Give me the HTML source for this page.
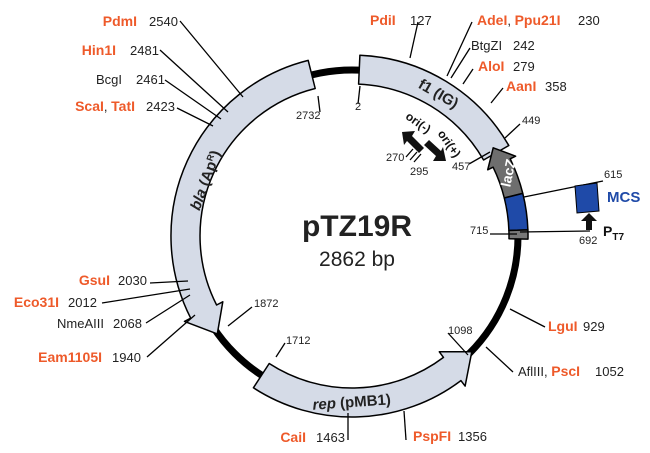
<!DOCTYPE html>
<html><head><meta charset="utf-8"><style>
html,body{margin:0;padding:0;background:#fff;width:650px;height:453px;overflow:hidden}
svg{display:block}
text{font-family:"Liberation Sans Narrow","Liberation Sans",sans-serif;font-size:13px;fill:#222}
.r{fill:#ee5a2a;font-weight:bold;font-size:14px}
.s{font-size:11px}
</style></head><body>
<svg id="s" width="650" height="453" viewBox="0 0 650 453">
<g id="shapes"></g>
<g stroke="#000" stroke-width="1.3" fill="none">
<polyline points="180,21 243,97"/>
<polyline points="160,50 228,112"/>
<polyline points="165,80 221,119"/>
<polyline points="177,108 213,126"/>
<polyline points="418,22 410,58"/>
<polyline points="472,22 447,76"/>
<polyline points="470,48 451,78"/>
<polyline points="473,69 463,84"/>
<polyline points="503,88 491,103"/>
<polyline points="520,124 505,138"/>
<polyline points="469,164 490,152"/>
<polyline points="406,157 413,149"/>
<polyline points="414,162 421,154"/>
<polyline points="410,160 417,152"/>
<polyline points="490,234 517,234"/>
<polyline points="520,232 590,231"/>
<polyline points="524,197 603,181"/>
<polyline points="150,283 188,281"/>
<polyline points="102,303 190,289"/>
<polyline points="146,323 190,295"/>
<polyline points="147,357 195,315"/>
<polyline points="228,326 252,307"/>
<polyline points="276,357 285,343"/>
<polyline points="448,333 468,355"/>
<polyline points="510,309 545,327"/>
<polyline points="486,347 513,372"/>
<polyline points="348,440 348,413"/>
<polyline points="406,440 404,411"/>
<polyline points="318,96 320,112"/>
<polyline points="360,86 358,104"/>
</g>
<g fill="#111">
<polygon points="402,132 415,131 412,136 424,148 419,153 407,141 404,145"/>
<polygon points="446,161 433,161 436,156 424,145 429,140 441,151 443,147"/>
</g>
<polygon points="575,186 597,183 599,211 577,213" fill="#1f4aa8" stroke="#000" stroke-width="1"/>
<polygon points="589,213 597,221 592,221 592,230 586,230 586,221 581,221" fill="#111"/>

<text x="137" y="26" class="r" text-anchor="end">PdmI</text><text x="149" y="26">2540</text>
<text x="116" y="55" class="r" text-anchor="end">Hin1I</text><text x="130" y="55">2481</text>
<text x="122" y="84" text-anchor="end">BcgI</text><text x="136" y="84">2461</text>
<text x="135" y="111" text-anchor="end"><tspan class="r">ScaI</tspan>, <tspan class="r">TatI</tspan></text><text x="146" y="111">2423</text>
<text x="370" y="25" class="r">PdiI</text><text x="410" y="25">127</text>
<text x="477" y="25"><tspan class="r">AdeI</tspan>, <tspan class="r">Ppu21I</tspan></text><text x="578" y="25">230</text>
<text x="471" y="50">BtgZI</text><text x="513" y="50">242</text>
<text x="478" y="71" class="r">AloI</text><text x="513" y="71">279</text>
<text x="506" y="91" class="r">AanI</text><text x="545" y="91">358</text>
<text x="522" y="124" class="s">449</text>
<text x="452" y="170" class="s">457</text>
<text x="386" y="161" class="s">270</text>
<text x="410" y="175" class="s">295</text>
<text x="604" y="178" class="s">615</text>
<text x="607" y="202" style="fill:#1f4aa8;font-weight:bold;font-size:15px">MCS</text>
<text x="470" y="234" class="s">715</text>
<text x="579" y="244" class="s">692</text>
<text x="603" y="236" style="font-weight:bold;font-size:14px;fill:#111">P<tspan dy="4" font-size="10">T7</tspan></text>
<text x="296" y="119" class="s">2732</text>
<text x="355" y="110" class="s">2</text>
<text x="357" y="236" text-anchor="middle" style="font-family:'Liberation Sans',sans-serif;font-weight:bold;font-size:30px;fill:#222">pTZ19R</text>
<text x="357" y="266" text-anchor="middle" style="font-size:21px">2862 bp</text>
<text x="110" y="285" class="r" text-anchor="end">GsuI</text><text x="118" y="285">2030</text>
<text x="59" y="307" class="r" text-anchor="end">Eco31I</text><text x="68" y="307">2012</text>
<text x="104" y="328" text-anchor="end">NmeAIII</text><text x="113" y="328">2068</text>
<text x="102" y="362" class="r" text-anchor="end">Eam1105I</text><text x="112" y="362">1940</text>
<text x="254" y="307" class="s">1872</text>
<text x="286" y="344" class="s">1712</text>
<text x="448" y="334" class="s">1098</text>
<text x="548" y="331" class="r">LguI</text><text x="583" y="331">929</text>
<text x="518" y="376">AflIII, <tspan class="r">PscI</tspan></text><text x="595" y="376">1052</text>
<text x="306" y="442" class="r" text-anchor="end">CaiI</text><text x="316" y="442">1463</text>
<text x="413" y="441" class="r">PspFI</text><text x="458" y="441">1356</text>
<text x="436" y="98" transform="rotate(30 436 98)" text-anchor="middle" style="font-weight:bold;font-size:15px;fill:#222">f1 (IG)</text>
<text x="416" y="126" transform="rotate(35 416 126)" text-anchor="middle" style="font-weight:bold;font-size:12px;fill:#111">ori(-)</text>
<text x="446" y="146" transform="rotate(55 446 146)" text-anchor="middle" style="font-weight:bold;font-size:12px;fill:#111">ori(+)</text>
<text x="513" y="174" transform="rotate(-78 513 174)" text-anchor="middle" style="font-weight:bold;font-size:14px;fill:#fff">lacZ</text>
<text x="210" y="182" transform="rotate(-70 210 182)" text-anchor="middle" style="font-weight:bold;font-size:15px;fill:#222"><tspan font-style="italic">bla</tspan> (Ap<tspan dy="-5" font-size="9">R</tspan><tspan dy="5">)</tspan></text>
<text x="352" y="407" transform="rotate(-4 352 407)" text-anchor="middle" style="font-weight:bold;font-size:15px;fill:#222"><tspan font-style="italic">rep</tspan> (pMB1)</text>
</svg>
<script>
var cx=352,cy=236,R=166,NS="http://www.w3.org/2000/svg";
function P(r,a){a=a*Math.PI/180;return [(cx+r*Math.sin(a)).toFixed(1),(cy-r*Math.cos(a)).toFixed(1)];}
function arc(r,a1,a2){var p=P(r,a2);var large=Math.abs(a2-a1)>180?1:0;var sw=a2>a1?1:0;return "A"+r+","+r+" 0 "+large+" "+sw+" "+p[0]+","+p[1];}
function band(r1,r2,a1,a2){var p=P(r2,a1),q=P(r1,a2);return "M"+p+" "+arc(r2,a1,a2)+" L"+q+" "+arc(r1,a2,a1)+"Z";}
function arrow(r1,r2,h1,h2,a1,a2,hl){var d=a2>a1?1:-1;var b=a2-d*hl;var p=P(r2,a1);
return "M"+p+" "+arc(r2,a1,b)+" L"+P(h2,b)+" L"+P((r1+r2)/2,a2)+" L"+P(h1,b)+" L"+P(r1,b)+" "+arc(r1,b,a1)+"Z";}
function add(tag,at){var e=document.createElementNS(NS,tag);for(var k in at)e.setAttribute(k,at[k]);document.getElementById("shapes").appendChild(e);}
add("circle",{cx:cx,cy:cy,r:R,fill:"none",stroke:"#000","stroke-width":7});
function sh(d,f){add("path",{d:d,fill:f,stroke:"#000","stroke-width":1.5,"stroke-linejoin":"round"});}
sh(band(152,181,2.5,60),"#d5dbe7");
sh(arrow(157,176,151,182,76,58,6),"#6e6e6e");
sh(band(157,176,76,88),"#1f4aa8");
sh(band(157,176,88,91),"#777");
sh(arrow(152,181,145,188,213,134,9),"#d5dbe7");
sh(arrow(152,181,145,188,346,234,9),"#d5dbe7");
</script>
</body></html>
